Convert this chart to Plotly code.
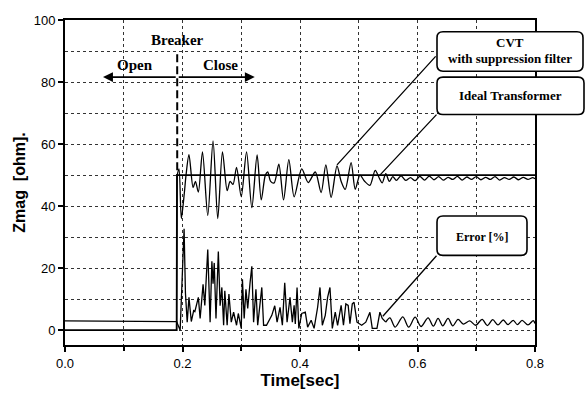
import plotly.graph_objects as go

# ---------------- data ----------------
ideal_t = [0.0, 0.190, 0.1905, 0.8]
ideal_v = [0, 0, 50, 50]

cvt_pre_t = [0.0, 0.190, 0.191]
cvt_pre_v = [0, 0, 50]

cvt_t = [0.191, 0.194, 0.198, 0.203, 0.206, 0.211, 0.218, 0.222, 0.227, 0.234,
         0.243, 0.252, 0.260, 0.268, 0.276, 0.281, 0.286, 0.292, 0.300, 0.309,
         0.318, 0.327, 0.334, 0.341, 0.345, 0.350, 0.356, 0.364, 0.372, 0.381,
         0.390, 0.403, 0.414, 0.426, 0.436, 0.444, 0.453, 0.463, 0.470, 0.477,
         0.487, 0.494, 0.502, 0.510, 0.519, 0.528, 0.535, 0.540, 0.546, 0.552,
         0.558, 0.564, 0.572, 0.580, 0.588, 0.596, 0.604, 0.612, 0.620, 0.628,
         0.636, 0.644, 0.652, 0.660, 0.668, 0.676, 0.684, 0.692, 0.700, 0.708,
         0.716, 0.724, 0.732, 0.740, 0.748, 0.756, 0.764, 0.772, 0.780, 0.788,
         0.796, 0.800]
cvt_v = [50, 52, 36, 44, 50, 56.6, 46, 48, 44.5, 57.5,
         37, 61, 36, 57.5, 45, 48, 47, 52.5, 43, 57.5,
         39.5, 56.5, 42, 50, 51, 48, 47.5, 53.5, 42, 55,
         43, 52, 47.6, 51, 44.4, 53.3, 42.8, 53, 48, 45.4,
         54, 45.4, 50, 48, 46.7, 51.5, 49, 47.5, 50.5, 48,
         49.5, 48.3, 49.8, 48.3, 49.2, 48.2, 49.6, 48.4, 49.7, 48.5,
         49.5, 48.4, 49.3, 48.6, 49.6, 48.4, 49.4, 48.6, 49.5, 48.5,
         49.3, 48.6, 49.5, 48.4, 49.2, 48.6, 49.4, 48.5, 49.3, 48.6,
         49.2, 48.8]

err_t = [0.0, 0.190, 0.196, 0.2027, 0.205, 0.208, 0.211, 0.215, 0.219, 0.221,
         0.227, 0.230, 0.235, 0.238, 0.243, 0.247, 0.250, 0.252, 0.254, 0.257,
         0.261, 0.264, 0.267, 0.270, 0.272, 0.276, 0.279, 0.283, 0.287, 0.292,
         0.295, 0.300, 0.302, 0.305, 0.308, 0.311, 0.315, 0.318, 0.321, 0.325,
         0.328, 0.335, 0.338, 0.343, 0.352, 0.357, 0.361, 0.366, 0.370, 0.374,
         0.378, 0.383, 0.387, 0.390, 0.392, 0.395, 0.398, 0.403, 0.409, 0.413,
         0.419, 0.424, 0.430, 0.434, 0.438, 0.443, 0.447, 0.451, 0.455, 0.460,
         0.464, 0.470, 0.474, 0.478, 0.482, 0.485, 0.489, 0.492, 0.497, 0.505,
         0.512, 0.519, 0.523, 0.531, 0.536, 0.540, 0.546]
err_v = [3.0, 2.8, 0.0, 32.7, 12, 2.6, 10.6, 2.8, 6.3, 6.0,
         10.6, 3.8, 14.8, 8, 26, 2.6, 22.2, 15, 21.7, 3.8,
         25.4, 7.9, 13.8, 1.6, 12.7, 1.6, 11.7, 2.6, 5.8, 1.6,
         5.4, 0.6, 16.4, 3.8, 13.2, 7, 15.3, 20.6, 2.6, 13.2,
         1.6, 13.8, 1.6, 1.6, 4.8, 7.9, 2.6, 7.4, 1.6, 15.3,
         2.6, 10.6, 2.6, 8, 2, 13.8, 0.6, 5.4, 5.8, 1,
         3.2, 0.6, 7.4, 13.8, 1.6, 4.8, 10.6, 13.8, 0.6, 5.8,
         1.6, 8, 1.6, 8.5, 8, 2.1, 8.5, 9, 2.6, 1.6,
         2.6, 5.8, 0.6, 0.6, 5.8, 3.8, 2.6]

err_tail_t = [0.546, 0.553, 0.562, 0.575, 0.585, 0.596, 0.606, 0.618, 0.627, 0.635,
              0.643, 0.652, 0.660, 0.669, 0.678, 0.689, 0.699, 0.710, 0.719, 0.728,
              0.737, 0.746, 0.754, 0.763, 0.770, 0.778, 0.788, 0.797, 0.800]
err_tail_v = [2.6, 4.0, 1.0, 4.3, 1.0, 4.2, 1.2, 4.0, 1.3, 3.8,
              1.4, 3.8, 1.4, 3.5, 2.0, 3.0, 1.6, 3.5, 1.5, 3.4,
              1.7, 3.3, 1.8, 3.2, 1.8, 3.2, 1.7, 3.1, 2.2]

breaker_t = [0.191, 0.191]
breaker_v = [89, 50]

x_ticks = [0.0, 0.2, 0.4, 0.6, 0.8]
x_tick_labels = ["0.0", "0.2", "0.4", "0.6", "0.8"]
y_ticks = [0, 20, 40, 60, 80, 100]

# ---------------- layout helpers ----------------
W, H = 585, 396
ML, MR, MT, MB = 65, 50, 20, 46
PW, PH = W - ML - MR, H - MT - MB


def px2paper(px, py):
    return (px - ML) / PW, (H - MB - py) / PH


def rounded_rect(x0, y0, x1, y1, r=6):
    X0, Y0 = px2paper(x0, y0)
    X1, Y1 = px2paper(x1, y1)
    rx, ry = r / PW, r / PH
    p = (f"M {X0 + rx},{Y0} L {X1 - rx},{Y0} Q {X1},{Y0} {X1},{Y0 - ry} "
         f"L {X1},{Y1 + ry} Q {X1},{Y1} {X1 - rx},{Y1} "
         f"L {X0 + rx},{Y1} Q {X0},{Y1} {X0},{Y1 + ry} "
         f"L {X0},{Y0 - ry} Q {X0},{Y0} {X0 + rx},{Y0} Z")
    return dict(type="path", xref="paper", yref="paper", path=p,
                line=dict(color="black", width=1.6), fillcolor="white",
                layer="above")


fig = go.Figure()
fig.add_trace(go.Scatter(x=cvt_pre_t, y=cvt_pre_v, mode="lines",
                         line=dict(color="black", width=1.3), showlegend=False))
fig.add_trace(go.Scatter(x=cvt_t, y=cvt_v, mode="lines",
                         line=dict(color="black", width=1.3, shape="spline",
                                   smoothing=0.8), showlegend=False))
fig.add_trace(go.Scatter(x=ideal_t, y=ideal_v, mode="lines",
                         line=dict(color="black", width=1.7), showlegend=False))
fig.add_trace(go.Scatter(x=err_t, y=err_v, mode="lines",
                         line=dict(color="black", width=1.3), showlegend=False))
fig.add_trace(go.Scatter(x=err_tail_t, y=err_tail_v, mode="lines",
                         line=dict(color="black", width=1.3, shape="spline",
                                   smoothing=0.9), showlegend=False))
fig.add_trace(go.Scatter(x=breaker_t, y=breaker_v, mode="lines",
                         line=dict(color="black", width=2, dash="8px,4px"),
                         showlegend=False))

serif = "Liberation Serif"
sans = "Liberation Sans"

ann = []
ann.append(dict(x=0.192, y=93.7, xref="x", yref="y", text="<b>Breaker</b>",
                showarrow=False, font=dict(family=serif, size=15, color="black")))
ann.append(dict(x=0.119, y=85.5, xref="x", yref="y", text="<b>Open</b>",
                showarrow=False, font=dict(family=serif, size=15, color="black")))
ann.append(dict(x=0.264, y=85.5, xref="x", yref="y", text="<b>Close</b>",
                showarrow=False, font=dict(family=serif, size=15, color="black")))
for tip in (0.0647, 0.323):
    ann.append(dict(x=tip, y=81.6, xref="x", yref="y", ax=0.191, ay=81.6,
                    axref="x", ayref="y", text="", showarrow=True, arrowhead=2,
                    arrowsize=1.1, arrowwidth=1.8, arrowcolor="black"))

# leader lines (point on curve -> box corner)
ann.append(dict(x=0.463, y=53.3, xref="x", yref="y", ax=100, ay=-110, text="",
                showarrow=True, arrowhead=0, arrowwidth=1.3, arrowcolor="black"))
ann.append(dict(x=0.536, y=50, xref="x", yref="y", ax=58, ay=-62, text="",
                showarrow=True, arrowhead=0, arrowwidth=1.3, arrowcolor="black"))
ann.append(dict(x=0.541, y=4.5, xref="x", yref="y", ax=55, ay=-62, text="",
                showarrow=True, arrowhead=0, arrowwidth=1.3, arrowcolor="black"))


def box_text(px, py, txt, size):
    X, Y = px2paper(px, py)
    return dict(x=X, y=Y, xref="paper", yref="paper", text=f"<b>{txt}</b>",
                xanchor="center", yanchor="middle",
                showarrow=False, font=dict(family=serif, size=size, color="black"))


ann.append(box_text(510, 43, "CVT", 13))
ann.append(box_text(510, 59, "with suppression filter", 13))
ann.append(box_text(510, 97, "Ideal Transformer", 13))
ann.append(box_text(482, 240, "Error [%]", 12))

shapes = [rounded_rect(437, 32, 583, 72), rounded_rect(437, 78, 584, 116),
          rounded_rect(437, 219, 527, 259)]

fig.update_layout(
    width=W, height=H, margin=dict(l=ML, r=MR, t=MT, b=MB),
    paper_bgcolor="white", plot_bgcolor="white",
    annotations=ann, shapes=shapes,
    font=dict(family=sans, size=13, color="black"),
)
fig.update_xaxes(range=[0, 0.8], tickvals=x_ticks, ticktext=x_tick_labels,
                 showline=True, linecolor="black", linewidth=2, mirror=True,
                 ticks="outside", ticklen=5, tickwidth=1.5, tickcolor="black",
                 showgrid=False, zeroline=False,
                 minor=dict(dtick=0.1, tick0=0, ticks="outside", ticklen=4,
                            tickwidth=1.5, tickcolor="black", showgrid=True,
                            gridcolor="#333", griddash="dot", gridwidth=1),
                 title=dict(text="<b>Time[sec]</b>", font=dict(family=sans, size=17),
                            standoff=2),
                 tickfont=dict(family=sans, size=13))
fig.update_yaxes(range=[-4.76, 100], tickvals=y_ticks,
                 showline=True, linecolor="black", linewidth=2, mirror=True,
                 ticks="outside", ticklen=5, tickwidth=1.5, tickcolor="black",
                 showgrid=False, zeroline=False,
                 minor=dict(dtick=10, tick0=0, ticks="", showgrid=True,
                            gridcolor="#333", griddash="dot", gridwidth=1),
                 title=dict(text="<b>Zmag  [ohm].</b>", font=dict(family=sans, size=16),
                            standoff=4),
                 tickfont=dict(family=sans, size=13))

fig.write_html("out.html")
